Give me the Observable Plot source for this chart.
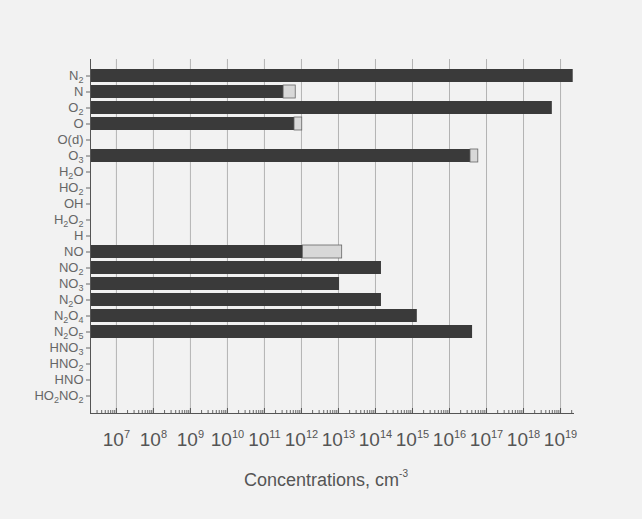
<!DOCTYPE html>
<html><head><meta charset="utf-8">
<script src="https://cdn.jsdelivr.net/npm/d3@7"></script>
<script src="https://cdn.jsdelivr.net/npm/@observablehq/plot@0.6"></script>
<style>
body{margin:0;background:#f2f2f2;font-family:"Liberation Sans",Arial,sans-serif;width:642px;height:519px;overflow:hidden;position:relative;}
#cap{position:absolute;left:0;top:470px;width:652px;text-align:center;font-size:18px;color:#555;}
#cap sup{font-size:10px;position:relative;top:-2px;}
</style></head><body>
<div id="chart"></div>
<div id="cap">Concentrations, cm<sup>-3</sup></div>
<script>
// Species (rows, top to bottom)
const species = ["N2","N","O2","O","O(d)","O3","H2O","HO2","OH","H2O2","H","NO","NO2","NO3","N2O","N2O4","N2O5","HNO3","HNO2","HNO","HO2NO2"];
// Concentration (cm^-3), dark bar end
const concentration = [2.2e19,3.3e11,6e18,6.5e11,null,3.7e16,null,null,null,null,null,1.1e12,1.45e14,1.07e13,1.45e14,1.35e15,4.2e16,null,null,null,null];
// Upper bound of range (light segment end)
const upperBound = [null,7e11,null,1.05e12,null,6e16,null,null,null,null,null,1.26e13,null,null,null,null,null,null,null,null,null];
// Axis
const xDomain = [1.995e6, 2.24e19];
const decadeExponents = [7,8,9,10,11,12,13,14,15,16,17,18,19];

const rows = species.map((name, i) => ({name, value: concentration[i], upper: upperBound[i]}));
const decades = decadeExponents.map(e => 10 ** e);
const minor = [];
for (let e = 6; e <= 19; e++) for (let k = 2; k <= 9; k++) {
  const v = k * 10 ** e;
  if (v >= xDomain[0] && v <= xDomain[1]) minor.push(v);
}

const plot = Plot.plot({
  width: 642,
  height: 470,
  marginLeft: 90,
  marginRight: 69,
  marginTop: 59,
  marginBottom: 57,
  style: {background: "transparent", fontFamily: "Liberation Sans, Arial, sans-serif", color: "#555"},
  x: {type: "log", domain: xDomain},
  y: {domain: species, paddingInner: 0.18, paddingOuter: 0.08},
  marks: [
    Plot.gridX(decades, {stroke: "#999", strokeOpacity: 0.7}),
    Plot.barX(rows.filter(d => d.value != null), {y: "name", x1: xDomain[0], x2: "value", fill: "#3a3a3a"}),
    Plot.barX(rows.filter(d => d.upper != null), {y: "name", x1: "value", x2: "upper", fill: "#d8d8d8", stroke: "#666", strokeWidth: 0.8}),
    Plot.axisY({tickSize: 4, tickPadding: 3, fontSize: 13, stroke: "#666", color: "#666", label: null}),
    Plot.axisX(minor, {tickSize: 3, dy: -3, tickFormat: () => "", stroke: "#666", label: null}),
    Plot.axisX(decades, {tickSize: 5, dy: -5, tickFormat: () => "", stroke: "#555", label: null}),
    Plot.axisX(decades, {tickSize: 0, tickPadding: 19, fontSize: 19, color: "#555", label: null,
      tickFormat: d => "10^" + Math.round(Math.log10(d))}),
    Plot.frame({anchor: "left", stroke: "#555"}),
    Plot.frame({anchor: "bottom", stroke: "#555"})
  ]
});
document.getElementById("chart").appendChild(plot);

const NS = "http://www.w3.org/2000/svg";
plot.querySelectorAll("text").forEach(t => {
  const s = t.textContent;
  let m = /^10\^(\d+)$/.exec(s);
  if (m) {
    t.textContent = "10";
    const sp = document.createElementNS(NS, "tspan");
    sp.setAttribute("dy", "-8");
    sp.setAttribute("font-size", "11");
    sp.textContent = m[1];
    t.appendChild(sp);
    return;
  }
  if (species.includes(s) && /\d/.test(s)) {
    t.textContent = "";
    const parts = s.match(/\d+|\D+/g);
    let shifted = false;
    parts.forEach(p => {
      const sp = document.createElementNS(NS, "tspan");
      const isNum = /\d/.test(p);
      if (isNum) { sp.setAttribute("dy", "3"); sp.setAttribute("font-size", "9"); shifted = true; }
      else if (shifted) { sp.setAttribute("dy", "-3"); shifted = false; }
      sp.textContent = p;
      t.appendChild(sp);
    });
  }
});
</script>
</body></html>
